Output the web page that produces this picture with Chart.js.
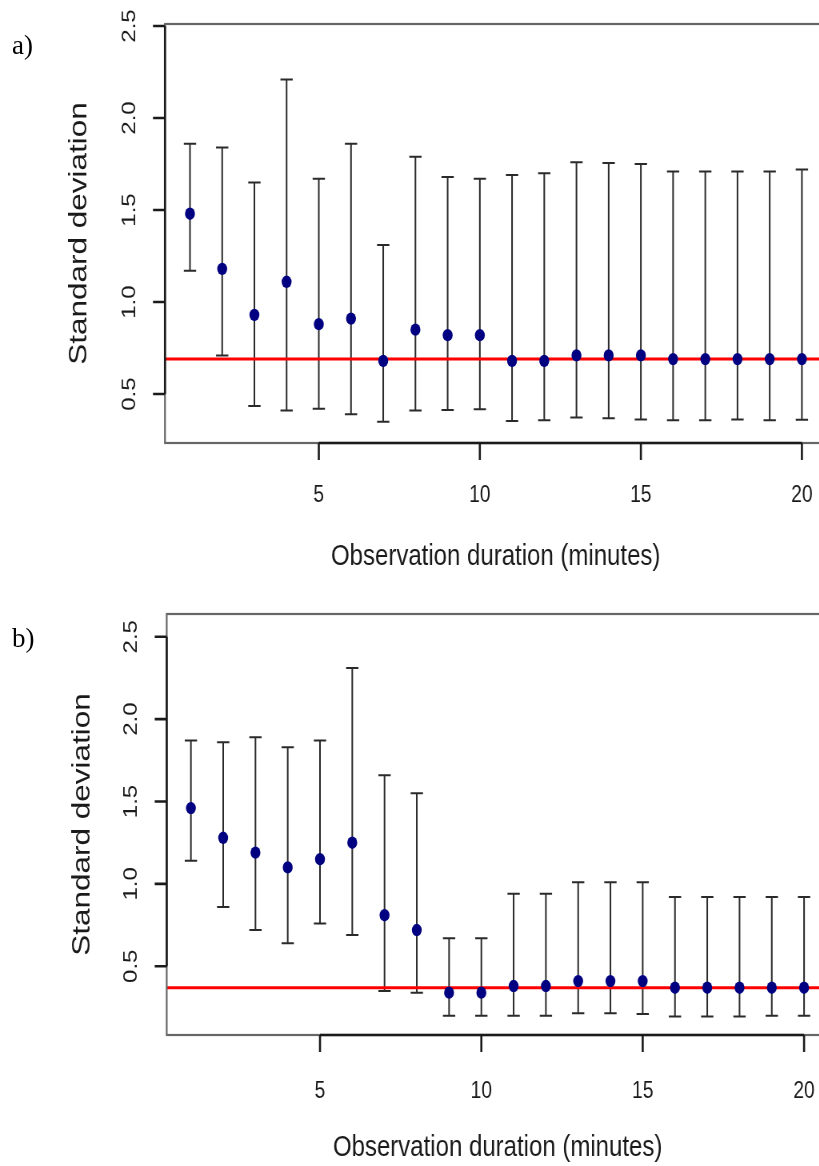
<!DOCTYPE html>
<html><head><meta charset="utf-8">
<script src="https://cdn.jsdelivr.net/npm/chart.js@4.4.1/dist/chart.umd.min.js"></script>
<style>
html,body{margin:0;padding:0;background:#fff;}
body{width:819px;height:1166px;position:relative;overflow:hidden;}
.clip{position:absolute;left:0;width:819px;height:583px;overflow:hidden;}
.squeeze{width:1045px;height:583px;transform:scaleX(0.8);transform-origin:0 0;}
.tag{position:absolute;left:12px;font-family:'Liberation Serif','Times New Roman',serif;font-size:27px;color:#000;line-height:1;}
</style></head><body>
<div class="clip" style="top:0"><div class="squeeze"><canvas id="chartA" width="1045" height="583"></canvas></div></div>
<div class="clip" style="top:583px"><div class="squeeze"><canvas id="chartB" width="1045" height="583"></canvas></div></div>
<div class="tag" style="top:32px">a)</div>
<div class="tag" style="top:625px">b)</div>
<script>
// ---- data ----
const durations = [1,2,3,4,5,6,7,8,9,10,11,12,13,14,15,16,17,18,19,20];
const xTicks = [5,10,15,20];
const xTickLabels = ['5','10','15','20'];
const yTicks = [0.5,1.0,1.5,2.0,2.5];
const yTickLabels = ['0.5','1.0','1.5','2.0','2.5'];
const xTitle = 'Observation duration (minutes)';
const yTitle = 'Standard deviation';

const meanA  = [1.48,1.18,0.93,1.11,0.88,0.91,0.68,0.85,0.82,0.82,0.68,0.68,0.71,0.71,0.71,0.69,0.69,0.69,0.69,0.69];
const upperA = [1.86,1.84,1.65,2.21,1.67,1.86,1.31,1.79,1.68,1.67,1.69,1.70,1.76,1.755,1.75,1.71,1.71,1.71,1.71,1.72];
const lowerA = [1.17,0.71,0.435,0.41,0.42,0.39,0.35,0.41,0.413,0.417,0.353,0.357,0.373,0.368,0.362,0.357,0.357,0.362,0.357,0.36];
const refA = 0.69;

const meanB  = [1.46,1.28,1.19,1.10,1.15,1.25,0.81,0.72,0.34,0.34,0.38,0.38,0.41,0.41,0.41,0.37,0.37,0.37,0.37,0.37];
const upperB = [1.87,1.86,1.89,1.83,1.87,2.31,1.66,1.55,0.67,0.67,0.94,0.94,1.01,1.01,1.01,0.92,0.92,0.92,0.92,0.92];
const lowerB = [1.14,0.86,0.72,0.64,0.76,0.69,0.35,0.34,0.20,0.20,0.20,0.20,0.215,0.215,0.21,0.195,0.195,0.195,0.20,0.20];
const refB = 0.37;

// ---- plugins ----
const framePlugin = {
  id: 'frame',
  afterDraw(chart) {
    const {ctx, chartArea: a, scales: {x, y}} = chart;
    ctx.save();
    ctx.strokeStyle = '#666';
    ctx.lineWidth = 2.2;
    ctx.strokeRect(a.left, a.top, a.right - a.left, a.bottom - a.top);
    ctx.strokeStyle = '#1a1a1a';
    ctx.lineWidth = 2.6;
    ctx.beginPath();
    ctx.moveTo(x.getPixelForValue(xTicks[0]), a.bottom);
    ctx.lineTo(x.getPixelForValue(xTicks[xTicks.length - 1]), a.bottom);
    ctx.moveTo(a.left, y.getPixelForValue(yTicks[0]));
    ctx.lineTo(a.left, y.getPixelForValue(yTicks[yTicks.length - 1]));
    ctx.stroke();
    ctx.beginPath();
    xTicks.forEach(v => {
      const px = x.getPixelForValue(v);
      ctx.moveTo(px, a.bottom); ctx.lineTo(px, a.bottom + 17);
    });
    yTicks.forEach(v => {
      const py = y.getPixelForValue(v);
      ctx.moveTo(a.left, py); ctx.lineTo(a.left - 15, py);
    });
    ctx.stroke();
    ctx.restore();
  }
};
const errorBarPlugin = {
  id: 'errorBars',
  beforeDatasetsDraw(chart, args, opts) {
    const {ctx, scales: {x, y}} = chart;
    ctx.save();
    ctx.strokeStyle = '#2a2a2a';
    ctx.lineWidth = 2;
    durations.forEach((d, i) => {
      const px = x.getPixelForValue(d);
      const lo = y.getPixelForValue(opts.lower[i]);
      const hi = y.getPixelForValue(opts.upper[i]);
      const c = 7.7;
      ctx.beginPath();
      ctx.moveTo(px, lo); ctx.lineTo(px, hi);
      ctx.moveTo(px - c, lo); ctx.lineTo(px + c, lo);
      ctx.moveTo(px - c, hi); ctx.lineTo(px + c, hi);
      ctx.stroke();
    });
    ctx.restore();
  }
};

function buildChart(id, p) {
  const font = 'Liberation Sans';
  return new Chart(document.getElementById(id), {
    type: 'scatter',
    data: { datasets: [
      { type: 'scatter', data: durations.map((d, i) => ({x: d, y: p.mean[i]})),
        pointRadius: 6.2, pointHoverRadius: 6.2, backgroundColor: '#000080', borderWidth: 0, order: 0 },
      { type: 'line', data: [{x: p.xMin, y: p.ref}, {x: p.xMax, y: p.ref}],
        borderColor: '#ff0000', borderWidth: 3, pointRadius: 0, order: 1 }
    ]},
    options: {
      responsive: false, animation: false, devicePixelRatio: 1,
      layout: { padding: { top: p.top, right: p.padRight, left: 0, bottom: 0 } },
      plugins: { legend: {display: false}, tooltip: {enabled: false},
        errorBars: { lower: p.lower, upper: p.upper } },
      scales: {
        x: {
          type: 'linear', position: 'bottom', min: p.xMin, max: p.xMax,
          afterBuildTicks: s => { s.ticks = xTicks.map(v => ({value: v})); },
          afterFit: s => { s.height = p.xAxisH; s.paddingLeft = 0; s.paddingRight = 0; s.paddingTop = 0; s.paddingBottom = 0; },
          ticks: { autoSkip: false, minRotation: 0, maxRotation: 0, padding: p.xTickPad, color: '#1a1a1a',
            font: {family: font, size: 24}, callback: (v, i) => xTickLabels[i] },
          grid: { display: false },
          border: { display: false },
          title: { display: true, text: xTitle, color: '#1a1a1a', font: {family: font, size: 30},
            padding: {top: 0, bottom: p.xTitlePad} }
        },
        y: {
          type: 'linear', position: 'left', min: p.yMin, max: p.yMax,
          afterBuildTicks: s => { s.ticks = yTicks.map(v => ({value: v})); },
          afterFit: s => { s.width = p.left; s.paddingLeft = 0; s.paddingRight = 0; s.paddingTop = 0; s.paddingBottom = 0; },
          ticks: { autoSkip: false, minRotation: 90, maxRotation: 90, crossAlign: 'center', padding: 19.5, color: '#1a1a1a',
            font: {family: font, size: 24}, callback: (v, i) => yTickLabels[i] },
          grid: { display: false },
          border: { display: false },
          title: { display: true, text: yTitle, color: '#1a1a1a', font: {family: font, size: 31.5},
            padding: {top: p.yTitlePad, bottom: 0} }
        }
      }
    },
    plugins: [errorBarPlugin, framePlugin]
  });
}

buildChart('chartA', { mean: meanA, upper: upperA, lower: lowerA, ref: refA,
  xMin: 0.224, xMax: 20.76, yMin: 0.234, yMax: 2.511,
  top: 24, padRight: 12, left: 206.25, xAxisH: 140, xTickPad: 30, xTitlePad: 8, yTitlePad: 80 });
buildChart('chartB', { mean: meanB, upper: upperB, lower: lowerB, ref: refB,
  xMin: 0.25, xMax: 20.76, yMin: 0.083, yMax: 2.638,
  top: 31, padRight: 9.25, left: 208.4, xAxisH: 131, xTickPad: 34, xTitlePad: 0, yTitlePad: 84 });
</script>
</body></html>
